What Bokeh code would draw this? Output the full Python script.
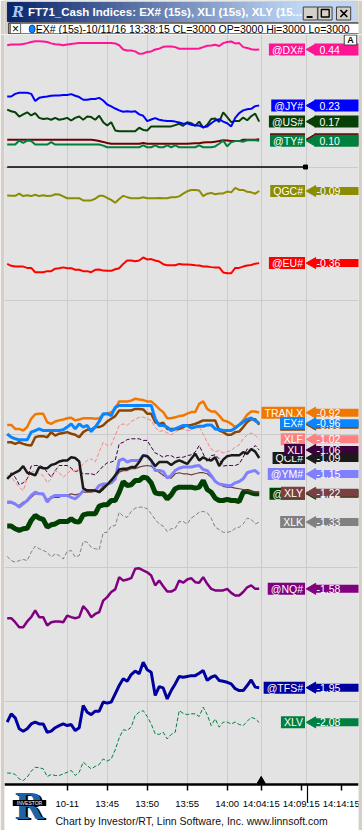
import math
from bokeh.plotting import figure
from bokeh.layouts import column
from bokeh.models import Range1d, FixedTicker, Grid
from bokeh.core.properties import value
from bokeh.embed import file_html
from bokeh.resources import INLINE

# ---------------- data (percent change, 30 s samples) ----------------
TIMES = [812.5 + 0.5 * i for i in range(64)]  # minutes after midnight (13:32:30 ... 14:04:00)

DX = [0.456, 0.459, 0.459, 0.459, 0.461, 0.464, 0.468, 0.471, 0.471, 0.470,
      0.468, 0.463, 0.460, 0.459, 0.456, 0.459, 0.461, 0.463, 0.464, 0.464,
      0.464, 0.464, 0.464, 0.464, 0.464, 0.464, 0.464, 0.463, 0.456, 0.440,
      0.436, 0.436, 0.433, 0.424, 0.425, 0.431, 0.433, 0.440, 0.443, 0.450,
      0.451, 0.451, 0.449, 0.443, 0.443, 0.443, 0.443, 0.443, 0.444, 0.449,
      0.454, 0.455, 0.458, 0.453, 0.464, 0.468, 0.470, 0.463, 0.464, 0.449,
      0.446, 0.441, 0.439, 0.440]
JY = [0.264, 0.264, 0.274, 0.278, 0.278, 0.278, 0.274, 0.247, 0.259, 0.262,
      0.264, 0.267, 0.268, 0.268, 0.270, 0.270, 0.273, 0.267, 0.262, 0.252,
      0.252, 0.255, 0.255, 0.259, 0.249, 0.234, 0.227, 0.219, 0.212, 0.207,
      0.209, 0.207, 0.209, 0.197, 0.192, 0.172, 0.178, 0.183, 0.177, 0.174,
      0.172, 0.172, 0.170, 0.167, 0.162, 0.164, 0.158, 0.155, 0.155, 0.149,
      0.152, 0.164, 0.174, 0.179, 0.170, 0.164, 0.152, 0.184, 0.202, 0.212,
      0.216, 0.218, 0.228, 0.230]
US = [0.215, 0.209, 0.205, 0.189, 0.197, 0.205, 0.193, 0.202, 0.184, 0.180,
      0.182, 0.177, 0.184, 0.177, 0.180, 0.184, 0.174, 0.184, 0.189, 0.177,
      0.189, 0.187, 0.177, 0.192, 0.168, 0.155, 0.168, 0.137, 0.134, 0.134,
      0.134, 0.134, 0.134, 0.147, 0.139, 0.137, 0.152, 0.152, 0.152, 0.152,
      0.152, 0.152, 0.157, 0.162, 0.154, 0.168, 0.164, 0.155, 0.170, 0.147,
      0.158, 0.180, 0.182, 0.169, 0.205, 0.187, 0.168, 0.172, 0.172, 0.185,
      0.175, 0.190, 0.200, 0.170]
FV = [0.102, 0.102, 0.102, 0.102, 0.102, 0.102, 0.102, 0.102, 0.102, 0.102,
      0.102, 0.102, 0.102, 0.102, 0.102, 0.102, 0.102, 0.102, 0.102, 0.102,
      0.102, 0.102, 0.100, 0.097, 0.094, 0.090, 0.087, 0.087, 0.087, 0.087,
      0.087, 0.087, 0.087, 0.087, 0.090, 0.087, 0.087, 0.087, 0.087, 0.087,
      0.087, 0.087, 0.087, 0.087, 0.087, 0.087, 0.088, 0.089, 0.089, 0.092,
      0.093, 0.093, 0.095, 0.097, 0.100, 0.099, 0.097, 0.097, 0.097, 0.102,
      0.102, 0.102, 0.102, 0.104]
TY = [0.084, 0.084, 0.084, 0.099, 0.090, 0.099, 0.097, 0.084, 0.084, 0.084,
      0.084, 0.093, 0.084, 0.084, 0.084, 0.084, 0.084, 0.084, 0.084, 0.084,
      0.084, 0.084, 0.084, 0.084, 0.080, 0.074, 0.074, 0.074, 0.074, 0.074,
      0.074, 0.074, 0.074, 0.074, 0.081, 0.074, 0.074, 0.081, 0.074, 0.074,
      0.081, 0.074, 0.081, 0.074, 0.074, 0.074, 0.074, 0.074, 0.081, 0.074,
      0.074, 0.074, 0.077, 0.087, 0.099, 0.077, 0.093, 0.097, 0.097, 0.095,
      0.100, 0.100, 0.100, 0.098]
QGC = [-0.107, -0.108, -0.108, -0.100, -0.109, -0.106, -0.109, -0.104, -0.109, -0.106,
       -0.109, -0.108, -0.102, -0.103, -0.110, -0.117, -0.117, -0.117, -0.117, -0.125,
       -0.125, -0.125, -0.119, -0.108, -0.108, -0.116, -0.123, -0.134, -0.120, -0.108,
       -0.113, -0.117, -0.117, -0.117, -0.113, -0.117, -0.117, -0.117, -0.116, -0.117,
       -0.117, -0.113, -0.113, -0.110, -0.100, -0.091, -0.086, -0.086, -0.088, -0.109,
       -0.100, -0.097, -0.102, -0.099, -0.099, -0.092, -0.095, -0.078, -0.086, -0.086,
       -0.093, -0.095, -0.100, -0.090]
EU = [-0.363, -0.370, -0.373, -0.373, -0.373, -0.378, -0.378, -0.394, -0.394, -0.394,
      -0.390, -0.390, -0.381, -0.379, -0.376, -0.379, -0.379, -0.385, -0.385, -0.390,
      -0.390, -0.394, -0.385, -0.384, -0.388, -0.389, -0.389, -0.383, -0.379, -0.363,
      -0.350, -0.350, -0.353, -0.350, -0.339, -0.346, -0.345, -0.350, -0.354, -0.364,
      -0.368, -0.368, -0.368, -0.363, -0.365, -0.365, -0.366, -0.368, -0.369, -0.373,
      -0.373, -0.375, -0.376, -0.376, -0.395, -0.398, -0.398, -0.378, -0.378, -0.373,
      -0.369, -0.367, -0.362, -0.360]
TRAN = [-0.966, -0.966, -0.981, -0.981, -0.987, -0.974, -0.943, -0.926, -0.924, -0.924,
        -0.956, -0.962, -0.953, -0.949, -0.946, -0.941, -0.939, -0.949, -0.946, -0.941,
        -0.941, -0.941, -0.943, -0.941, -0.928, -0.924, -0.918, -0.906, -0.878, -0.878,
        -0.878, -0.875, -0.868, -0.871, -0.873, -0.878, -0.878, -0.891, -0.906, -0.918,
        -0.941, -0.941, -0.937, -0.933, -0.931, -0.924, -0.918, -0.918, -0.887, -0.878,
        -0.906, -0.916, -0.916, -0.931, -0.949, -0.953, -0.962, -0.974, -0.966, -0.949,
        -0.928, -0.916, -0.916, -0.920]
EX = [-1.000, -1.012, -1.018, -1.022, -1.022, -1.022, -0.993, -0.987, -0.981, -0.987,
      -0.987, -0.987, -0.987, -0.987, -0.984, -0.974, -0.962, -0.981, -0.962, -0.974,
      -0.968, -0.991, -0.974, -0.953, -0.924, -0.924, -0.931, -0.900, -0.893, -0.893,
      -0.893, -0.893, -0.893, -0.893, -0.893, -0.893, -0.893, -0.943, -0.968, -0.968,
      -0.974, -0.987, -0.981, -0.974, -0.968, -0.968, -0.978, -0.974, -0.971, -0.971,
      -0.966, -0.966, -0.981, -0.983, -0.987, -0.987, -0.987, -0.978, -0.966, -0.955,
      -0.945, -0.940, -0.950, -0.960]
XLE = [-1.031, -1.031, -1.037, -1.031, -1.037, -1.041, -1.043, -1.012, -1.008, -1.008,
       -1.012, -0.993, -1.006, -0.999, -0.996, -0.993, -0.999, -1.003, -1.012, -0.993,
       -0.984, -0.984, -0.974, -0.974, -0.968, -0.953, -0.943, -0.933, -0.912, -0.912,
       -0.912, -0.912, -0.906, -0.906, -0.908, -0.924, -0.924, -0.956, -0.962, -0.958,
       -0.981, -0.981, -0.981, -0.981, -0.974, -0.968, -0.966, -0.962, -0.956, -0.949,
       -0.949, -0.949, -0.949, -0.987, -0.993, -1.003, -1.003, -0.993, -0.991, -0.974,
       -0.955, -0.945, -0.945, -0.965]
XLF = [-1.155, -1.162, -1.180, -1.199, -1.212, -1.168, -1.143, -1.137, -1.149, -1.155,
       -1.183, -1.168, -1.137, -1.145, -1.162, -1.149, -1.133, -1.143, -1.128, -1.112,
       -1.099, -1.093, -1.105, -1.068, -1.031, -1.043, -1.041, -1.006, -0.968, -0.962,
       -0.968, -0.953, -0.946, -0.937, -0.937, -0.943, -0.949, -0.974, -0.991, -0.987,
       -0.996, -1.003, -0.993, -0.983, -0.981, -0.987, -0.987, -0.962, -0.974, -0.999,
       -1.031, -1.056, -1.066, -1.062, -1.071, -1.066, -1.062, -1.049, -1.041, -1.018,
       -1.003, -0.996, -1.005, -1.020]
XLI = [-1.168, -1.145, -1.162, -1.190, -1.183, -1.168, -1.120, -1.118, -1.118, -1.124,
       -1.143, -1.162, -1.137, -1.118, -1.118, -1.118, -1.128, -1.140, -1.137, -1.149,
       -1.149, -1.149, -1.153, -1.137, -1.120, -1.108, -1.105, -1.099, -1.037, -1.031,
       -1.021, -1.018, -1.018, -1.018, -1.024, -1.024, -1.049, -1.071, -1.078, -1.087,
       -1.081, -1.081, -1.090, -1.087, -1.087, -1.081, -1.078, -1.068, -1.043, -1.074,
       -1.105, -1.081, -1.078, -1.093, -1.120, -1.118, -1.118, -1.118, -1.112, -1.087,
       -1.056, -1.062, -1.043, -1.060]
QCL = [-1.168, -1.153, -1.145, -1.137, -1.120, -1.145, -1.149, -1.155, -1.124, -1.128,
       -1.128, -1.116, -1.112, -1.103, -1.099, -1.099, -1.087, -1.090, -1.103, -1.203,
       -1.212, -1.212, -1.212, -1.218, -1.205, -1.190, -1.174, -1.155, -1.133, -1.130,
       -1.130, -1.124, -1.124, -1.105, -1.080, -1.083, -1.099, -1.120, -1.105, -1.105,
       -1.105, -1.116, -1.105, -1.099, -1.105, -1.112, -1.093, -1.074, -1.099, -1.087,
       -1.096, -1.099, -1.087, -1.120, -1.096, -1.083, -1.080, -1.080, -1.080, -1.068,
       -1.074, -1.056, -1.066, -1.090]
YM = [-1.255, -1.255, -1.262, -1.274, -1.262, -1.249, -1.230, -1.218, -1.224, -1.224,
      -1.255, -1.237, -1.230, -1.230, -1.230, -1.230, -1.237, -1.243, -1.230, -1.212,
      -1.212, -1.212, -1.212, -1.193, -1.187, -1.187, -1.183, -1.168, -1.099, -1.093,
      -1.105, -1.099, -1.099, -1.099, -1.080, -1.083, -1.099, -1.137, -1.137, -1.140,
      -1.165, -1.155, -1.137, -1.128, -1.124, -1.124, -1.124, -1.120, -1.118, -1.133,
      -1.137, -1.155, -1.178, -1.187, -1.190, -1.193, -1.193, -1.183, -1.178, -1.168,
      -1.145, -1.140, -1.137, -1.150]
XLY = [-1.258, -1.258, -1.265, -1.268, -1.255, -1.253, -1.237, -1.224, -1.224, -1.228,
       -1.245, -1.240, -1.237, -1.237, -1.230, -1.230, -1.224, -1.228, -1.224, -1.218,
       -1.218, -1.218, -1.215, -1.212, -1.195, -1.190, -1.170, -1.165, -1.143, -1.137,
       -1.137, -1.130, -1.130, -1.124, -1.120, -1.118, -1.120, -1.133, -1.143, -1.155,
       -1.162, -1.165, -1.149, -1.145, -1.149, -1.149, -1.153, -1.149, -1.145, -1.145,
       -1.149, -1.162, -1.174, -1.187, -1.196, -1.199, -1.199, -1.203, -1.205, -1.208,
       -1.212, -1.215, -1.218, -1.220]
ES = [-1.345, -1.345, -1.355, -1.361, -1.355, -1.353, -1.324, -1.305, -1.315, -1.320,
      -1.349, -1.340, -1.337, -1.328, -1.328, -1.328, -1.318, -1.328, -1.330, -1.303,
      -1.299, -1.299, -1.299, -1.270, -1.265, -1.265, -1.249, -1.249, -1.218, -1.178,
      -1.193, -1.190, -1.174, -1.174, -1.162, -1.165, -1.183, -1.220, -1.224, -1.224,
      -1.243, -1.228, -1.205, -1.199, -1.199, -1.199, -1.199, -1.203, -1.199, -1.174,
      -1.208, -1.218, -1.240, -1.249, -1.249, -1.245, -1.249, -1.249, -1.253, -1.218,
      -1.215, -1.220, -1.224, -1.224]
XLK = [-1.458, -1.474, -1.480, -1.474, -1.470, -1.474, -1.443, -1.420, -1.430, -1.436,
       -1.443, -1.461, -1.449, -1.455, -1.468, -1.440, -1.436, -1.461, -1.455, -1.403,
       -1.405, -1.424, -1.430, -1.433, -1.370, -1.368, -1.345, -1.343, -1.293, -1.308,
       -1.312, -1.290, -1.278, -1.274, -1.274, -1.280, -1.299, -1.320, -1.337, -1.345,
       -1.365, -1.355, -1.353, -1.328, -1.328, -1.337, -1.315, -1.305, -1.293, -1.290,
       -1.295, -1.315, -1.349, -1.358, -1.368, -1.368, -1.365, -1.353, -1.349, -1.337,
       -1.315, -1.320, -1.337, -1.330]
NQ = [-1.690, -1.690, -1.705, -1.724, -1.724, -1.702, -1.686, -1.661, -1.686, -1.686,
      -1.717, -1.705, -1.702, -1.702, -1.705, -1.680, -1.686, -1.690, -1.686, -1.645,
      -1.661, -1.686, -1.674, -1.667, -1.624, -1.611, -1.592, -1.582, -1.536, -1.549,
      -1.545, -1.540, -1.505, -1.503, -1.511, -1.518, -1.530, -1.567, -1.549, -1.570,
      -1.590, -1.590, -1.582, -1.549, -1.557, -1.545, -1.540, -1.555, -1.557, -1.536,
      -1.561, -1.580, -1.586, -1.586, -1.586, -1.580, -1.595, -1.605, -1.605, -1.592,
      -1.574, -1.567, -1.580, -1.580]
TFS = [-2.079, -2.048, -2.063, -2.104, -2.113, -2.104, -2.086, -2.079, -2.086, -2.086,
       -2.117, -2.113, -2.100, -2.092, -2.086, -2.092, -2.088, -2.111, -2.100, -2.017,
       -2.042, -2.051, -2.038, -2.038, -2.004, -2.008, -2.004, -1.973, -1.942, -1.917,
       -1.926, -1.901, -1.888, -1.898, -1.855, -1.883, -1.892, -1.979, -1.946, -1.951,
       -1.992, -1.961, -1.936, -1.908, -1.911, -1.908, -1.905, -1.905, -1.896, -1.886,
       -1.923, -1.911, -1.905, -1.923, -1.926, -1.930, -1.936, -1.954, -1.961, -1.961,
       -1.942, -1.921, -1.948, -1.950]
XLV = [-2.270, -2.270, -2.275, -2.292, -2.298, -2.285, -2.263, -2.248, -2.250, -2.254,
       -2.283, -2.275, -2.279, -2.279, -2.273, -2.267, -2.260, -2.279, -2.267, -2.229,
       -2.242, -2.254, -2.245, -2.238, -2.217, -2.225, -2.217, -2.183, -2.138, -2.108,
       -2.110, -2.098, -2.054, -2.042, -2.036, -2.058, -2.086, -2.123, -2.125, -2.117,
       -2.142, -2.125, -2.117, -2.036, -2.046, -2.051, -2.048, -2.048, -2.058, -2.023,
       -2.051, -2.092, -2.067, -2.098, -2.079, -2.079, -2.086, -2.079, -2.088, -2.092,
       -2.076, -2.061, -2.067, -2.080]
ZERO = [0.0, 0.0]
LAST_BAR_TIME = 844.25

TICK_TIMES = [820.0, 825.0, 830.0, 835.0, 840.0, 844.25, 849.25, 854.25]
TICK_LABELS = ["10-11", "13:45", "13:50", "13:55", "14:00", "14:04:15", "14:09:15", "14:14:15"]
GRID_PCT = [0.5, 0.0, -0.5, -1.0, -1.5, -2.0]

# ---------------- styles ----------------
LINES = [
    ("XLV", XLV, "#008040", 1, "4 2"),
    ("@TFS#", TFS, "#0000a0", 3, "solid"),
    ("@NQ#", NQ, "#800080", 2.5, "solid"),
    ("XLK", XLK, "#808080", 1, "4 2"),
    ("@ES#", ES, "#004000", 5, "solid"),
    ("XLY", XLY, "#703c3c", 1.2, "solid"),
    ("@YM#", YM, "#8080ff", 3, "solid"),
    ("XLI", XLI, "#3c003c", 1, "4 2"),
    ("XLF", XLF, "#ff8080", 1, "4 2"),
    ("QCL#", QCL, "#1a1a1a", 2.5, "solid"),
    ("XLE", XLE, "#8b4500", 2.5, "solid"),
    ("TRAN.X", TRAN, "#f07800", 2.5, "solid"),
    ("EX#", EX, "#0a84ff", 3, "solid"),
    ("@EU#", EU, "#ff0000", 2, "solid"),
    ("QGC#", QGC, "#8c8c00", 2, "solid"),
    ("@FV#", FV, "#700000", 2, "solid"),
    ("@TY#", TY, "#008040", 2, "solid"),
    ("@US#", US, "#064006", 2, "solid"),
    ("@JY#", JY, "#0000ff", 2, "solid"),
    ("@DX#", DX, "#ff1493", 2, "solid"),
]
COLOR = {n: c for n, _, c, _, _ in LINES}
DATA = {n: d for n, d, _, _, _ in LINES}
LABEL_ORDER = ["@DX#", "@JY#", "@US#", "@FV#", "@TY#", "QGC#", "@EU#", "TRAN.X", "XLE", "EX#",
               "XLF", "QCL#", "XLI", "@YM#", "@ES#", "XLY", "XLK", "@NQ#", "@TFS#", "XLV"]
LABEL_BG = {"XLY": "#7a4040"}

FONT = "Liberation Sans"
WIN_GRAY = "#d4d0c8"
PLOT_BG = "#e3e3e3"
GRID_C = "#cbcbcb"


def t_at(px):  # page pixel -> minutes (8 px per minute, 13:40 at x=66.7)
    return 820.0 + (px - 66.7) / 8.0


def pct_at(py):  # page pixel -> percent (267 px per 1 %, 0 % at y=166.5)
    return (166.5 - py) / 267.0


def hy(py):  # header page pixel -> header data y
    return 34 - py


# ---------------- header (title bar + legend line) ----------------
hdr = figure(width=362, height=34, x_range=Range1d(0, 362), y_range=Range1d(0, 34),
             toolbar_location=None, output_backend="svg", x_axis_location=None,
             y_axis_location=None, min_border=0, outline_line_color=None,
             background_fill_color=WIN_GRAY, border_fill_color=WIN_GRAY)
hdr.grid.visible = False

N = 48
gx = [3 + 356 * i / N for i in range(N + 1)]
c0, c1 = (10, 36, 106), (190, 214, 244)
gcols = ["#%02x%02x%02x" % tuple(int(a + (b - a) * min(1.0, 1.2 * (i + 0.5) / N)) for a, b in zip(c0, c1))
         for i in range(N)]
hdr.quad(left=gx[:-1], right=gx[1:], bottom=hy(21), top=hy(2), fill_color=gcols, line_color=gcols)
hdr.text(x=[14], y=[hy(11.5)], text=["R"], text_font=value("DejaVu Serif"), text_font_style="bold italic",
         text_font_size="14px", text_color="#a8c8f0", text_align="center", text_baseline="middle")
hdr.text(x=[24], y=[hy(11.5)], text=["FT71_Cash Indices: EX# (15s), XLI (15s), XLY (15..."],
         text_font=value(FONT), text_font_style="bold", text_font_size="11.5px",
         text_color="white", text_baseline="middle")
hdr.quad(left=[305.5, 320.5, 339.5], right=[320, 335, 354], top=hy(6.5), bottom=hy(19.5),
         fill_color=WIN_GRAY, line_color="#404040", line_width=1)
hdr.segment(x0=[309], y0=[hy(16.5)], x1=[315], y1=[hy(16.5)], line_color="black", line_width=2)
hdr.quad(left=[324], right=[332], top=hy(9), bottom=hy(16.5), fill_color=None,
         line_color="black", line_width=1.4)
hdr.segment(x0=[343.5, 343.5], y0=[hy(9.5), hy(16.5)], x1=[350.5, 350.5], y1=[hy(16.5), hy(9.5)],
            line_color="black", line_width=1.7)
# legend line
hdr.quad(left=[4.5], right=[363], top=hy(22.5), bottom=hy(33.5), fill_color="white",
         line_color="black", line_width=1)
hdr.quad(left=[6], right=[16.5], top=hy(23), bottom=hy(33), fill_color="white",
         line_color="#606060", line_width=1)
hdr.text(x=[11.3], y=[hy(28)], text=["\u00d7"], text_font=value(FONT), text_font_size="12px",
         text_color="black", text_align="center", text_baseline="middle")
hdr.ellipse(x=[28.3], y=[hy(28.5)], width=6, height=8, fill_color="#0a84ff", line_color="#0050c0")
hdr.text(x=[32], y=[hy(28.2)], text=["EX# (15s)-10/11/16 13:38:15 CL=3000 OP=3000 Hi=3000 Lo=3000"],
         text_font=value(FONT), text_font_size="10.5px", text_color="black", text_baseline="middle")

# ---------------- main chart ----------------
p = figure(width=362, height=796, x_range=Range1d(t_at(4), t_at(358)),
           y_range=Range1d(pct_at(830), pct_at(34)), toolbar_location=None,
           output_backend="svg", y_axis_location=None, min_border_left=4, min_border_right=4,
           min_border_top=0, min_border_bottom=0, background_fill_color=PLOT_BG,
           border_fill_color=WIN_GRAY, outline_line_color=None)

for g in p.ygrid:
    g.visible = False
p.xgrid.ticker = FixedTicker(ticks=TICK_TIMES[:6])
p.xgrid.grid_line_color = GRID_C
p.add_layout(Grid(dimension=1, ticker=FixedTicker(ticks=GRID_PCT), grid_line_color=GRID_C))

# white strip under the time axis
p.quad(left=[t_at(4)], right=[t_at(358)], bottom=[pct_at(830)], top=[pct_at(784)],
       fill_color="white", line_color=None)
# separator of the label area
p.segment(x0=[t_at(306)], y0=[pct_at(34)], x1=[t_at(306)], y1=[pct_at(784)], line_color=GRID_C, line_width=1)
p.segment(x0=[t_at(307)], y0=[pct_at(784)], x1=[t_at(307)], y1=[pct_at(802)], line_color="black", line_width=1.2)

ax = p.xaxis[0]
ax.fixed_location = pct_at(784)
ax.ticker = FixedTicker(ticks=TICK_TIMES)
ax.major_label_overrides = {t: l for t, l in zip(TICK_TIMES, TICK_LABELS)}
ax.axis_line_color = "black"
ax.axis_line_width = 2.5
ax.major_tick_line_color = "black"
ax.major_tick_line_width = 1.5
ax.major_tick_out = 6
ax.major_tick_in = 0
ax.minor_tick_line_color = None
ax.major_label_text_font = FONT
ax.major_label_text_font_size = "9.5px"
ax.major_label_text_color = "black"
ax.major_label_standoff = 7

# zero line through the label area
p.line(x=[TIMES[0], t_at(305)], y=ZERO, line_color="black", line_width=1.5)
p.scatter(x=[t_at(305)], y=[ZERO[-1]], marker="square", size=4, color="black")

for name, data, color, width, dash in LINES:
    p.line(x=TIMES, y=data, line_color=color, line_width=width, line_dash=dash)

# current bar marker on the time axis
p.scatter(x=[LAST_BAR_TIME], y=[pct_at(780.5)], marker="triangle", size=8, color="black")

NAME_RIGHT = t_at(304.5)
TRI_X = t_at(312)
VALUE_LEFT = t_at(314)


def fmt(v):
    s = "%.2f" % v
    return s if v < 0 else "\u00a0" + s


for name in LABEL_ORDER:
    last = DATA[name][-1]
    bg = LABEL_BG.get(name, COLOR[name])
    p.text(x=[NAME_RIGHT], y=[last], text=[name], text_align="right", text_baseline="middle",
           text_font=value(FONT), text_font_size="10.5px", text_color="white",
           background_fill_color=bg, padding=dict(left=3, right=2, top=0, bottom=0))
    p.scatter(x=[TRI_X], y=[last], marker="triangle", angle=math.pi / 2, size=11,
              fill_color=bg, line_color=bg)
    p.text(x=[VALUE_LEFT], y=[last], text=[fmt(last)], text_align="left", text_baseline="middle",
           text_font=value(FONT), text_font_size="10.5px", text_color="white",
           background_fill_color=bg, padding=dict(left=2, right=60, top=0, bottom=0))

# autoscale button
p.text(x=[t_at(350)], y=[pct_at(39.5)], text=["A"], text_align="center", text_baseline="middle",
       text_font=value(FONT), text_font_style="bold", text_font_size="9px", text_color="black",
       background_fill_color="white", border_line_color="#404040",
       padding=dict(left=3, right=3, top=0, bottom=0))

# logo + footer
p.text(x=[t_at(30.5)], y=[pct_at(806.5)], text=["R"], text_align="center", text_baseline="middle",
       text_font=value("DejaVu Serif"), text_font_style="bold", text_font_size="36px", text_color="black")
p.text(x=[t_at(28.5)], y=[pct_at(805)], text=["R"], text_align="center", text_baseline="middle",
       text_font=value("DejaVu Serif"), text_font_style="bold", text_font_size="36px", text_color="#1d62a6")
p.text(x=[t_at(29)], y=[pct_at(802.5)], text=["INVESTOR"], text_align="center", text_baseline="middle",
       text_font=value(FONT), text_font_size="5px", text_color="white",
       background_fill_color="black", padding=dict(left=4, right=4, top=0, bottom=0))
p.text(x=[t_at(55)], y=[pct_at(820)], text=["Chart by Investor/RT, Linn Software, Inc. www.linnsoft.com"],
       text_align="left", text_baseline="middle", text_font=value(FONT), text_font_size="10.5px",
       text_color="#101010")

layout = column(hdr, p, spacing=0)
open("out.html", "w").write(file_html(layout, INLINE))
